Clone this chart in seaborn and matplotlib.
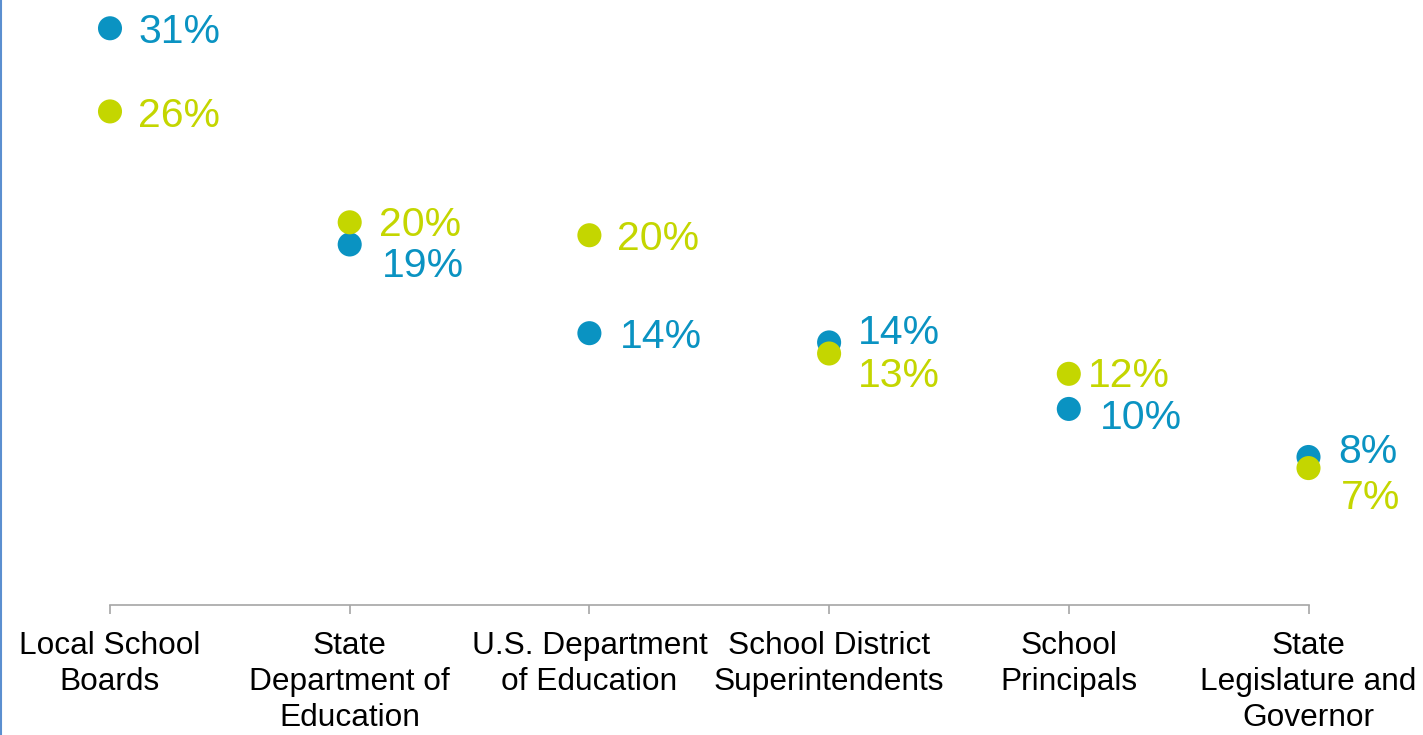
import matplotlib
matplotlib.use("Agg")
import matplotlib.pyplot as plt
from matplotlib.lines import Line2D
import pandas as pd
import seaborn as sns

# Who has the most influence — share of respondents, two survey groups
categories = [
    "Local School Boards",
    "State Department of Education",
    "U.S. Department of Education",
    "School District Superintendents",
    "School Principals",
    "State Legislature and Governor",
]
tick_labels = [
    "Local School\nBoards",
    "State\nDepartment of\nEducation",
    "U.S. Department\nof Education",
    "School District\nSuperintendents",
    "School\nPrincipals",
    "State\nLegislature and\nGovernor",
]
series_names = ["Group A", "Group B"]
group_a = [30.8, 19.1, 14.3, 13.8, 10.2, 7.6]
group_b = [26.3, 20.3, 19.6, 13.2, 12.1, 7.0]

BLUE = "#0A93C2"
GREEN = "#C4D600"
palette = {series_names[0]: BLUE, series_names[1]: GREEN}

# value-label nudges (pixels) so overlapping pairs stay readable
offsets_a = [(28, 0), (32, -18), (30, 0), (29, 13), (31, -5), (30, 9)]
offsets_b = [(28, -1), (29, 1), (28, 0), (29, -18), (19, 2), (32, -26)]

df = pd.DataFrame({
    "category": categories * 2,
    "share": group_a + group_b,
    "series": [series_names[0]] * len(categories) + [series_names[1]] * len(categories),
})

sns.set_theme(style="white")
plt.rcParams["font.family"] = ["Liberation Sans", "DejaVu Sans"]

fig = plt.figure(figsize=(14.23, 7.35), dpi=100)
ax = fig.add_axes([0.0, 130 / 735, 1.0, 605 / 735])

sns.scatterplot(
    data=df, x="category", y="share", hue="series", palette=palette,
    s=300, linewidth=0, legend=False, ax=ax, zorder=3,
)

ax.set_xlim(-110 / 239.7, (1423 - 110) / 239.7)
ax.set_ylim(-0.41, 32.33)

for vals, offs, color in ((group_a, offsets_a, BLUE), (group_b, offsets_b, GREEN)):
    for i, (v, (dx, dy)) in enumerate(zip(vals, offs)):
        ax.annotate(
            f"{v:.0f}%", xy=(i, v), xytext=(dx, dy - 4), textcoords="offset pixels",
            ha="left", va="center", fontsize=29.5, color=color, zorder=4,
        )

# axis styling: only a bounded bottom baseline with downward ticks
for side in ("top", "right", "left"):
    ax.spines[side].set_visible(False)
ax.spines["bottom"].set_color("#A6A6A6")
ax.spines["bottom"].set_linewidth(1.2)
ax.spines["bottom"].set_bounds(0, len(categories) - 1)
ax.set_yticks([])
ax.set_xticks(range(len(categories)))
ax.set_xticklabels(tick_labels, fontsize=22.8, color="black", linespacing=1.27)
ax.tick_params(axis="x", direction="out", length=6.5, width=1.2, color="#A6A6A6",
               pad=12, bottom=True)
ax.set_xlabel("")
ax.set_ylabel("")

# thin frame line at the left edge
fig.add_artist(Line2D([0.0008, 0.0008], [0, 1], transform=fig.transFigure,
                      color="#5B8FD0", linewidth=1.5))

fig.savefig("out.png", dpi=100, facecolor="white")
